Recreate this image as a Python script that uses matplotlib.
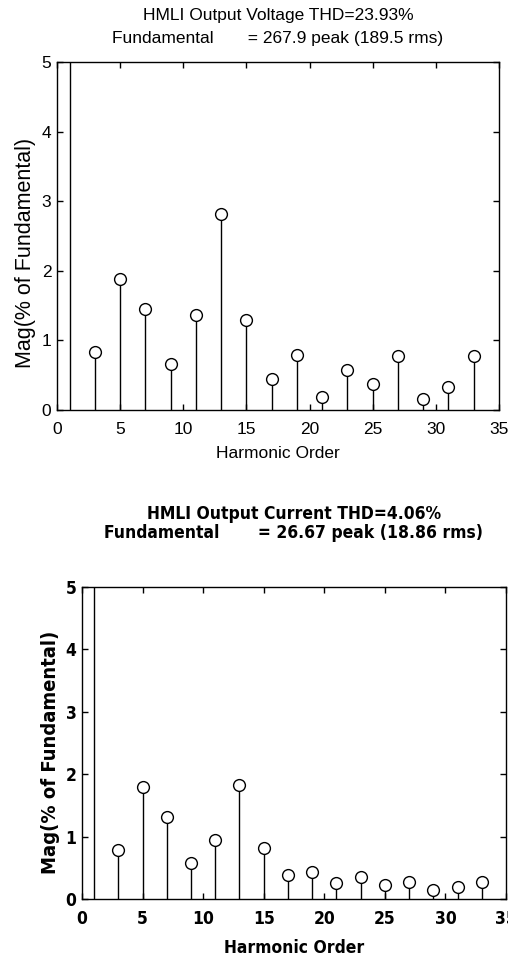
import matplotlib
matplotlib.use("Agg")
import matplotlib.pyplot as plt

harmonics = [1, 3, 5, 7, 9, 11, 13, 15, 17, 19, 21, 23, 25, 27, 29, 31, 33]
voltage_mag = [100, 0.83, 1.88, 1.45, 0.66, 1.37, 2.82, 1.29, 0.44, 0.79, 0.18, 0.57, 0.37, 0.77, 0.16, 0.33, 0.77]
current_mag = [100, 0.78, 1.80, 1.32, 0.57, 0.94, 1.82, 0.81, 0.39, 0.44, 0.25, 0.36, 0.22, 0.28, 0.14, 0.20, 0.28]
xticks = [0, 5, 10, 15, 20, 25, 30, 35]
yticks = [0, 1, 2, 3, 4, 5]

W, H = 508, 957
fig = plt.figure(figsize=(W / 100, H / 100), dpi=100)


def px_axes(l, t, r, b):
    return fig.add_axes([l / W, 1 - b / H, (r - l) / W, (b - t) / H])


def stem_plot(ax, y, fkw, size, title, ylabel, tpad, tls, xpad, ylsize, ylpos, xlpad):
    ax.vlines(harmonics, 0, y, color="black", lw=1.0, clip_on=True)
    ax.plot(harmonics, y, "o", mfc="white", mec="black", ms=8.5, mew=1.0, clip_on=True)
    ax.set_xlim(0, 35)
    ax.set_ylim(0, 5)
    ax.set_xticks(xticks)
    ax.set_yticks(yticks)
    ax.tick_params(direction="in", top=True, right=True, length=4, width=1,
                   labelsize=size)
    ax.tick_params(axis="x", pad=xpad)
    ax.tick_params(axis="y", pad=4)
    for lab in ax.get_xticklabels() + ax.get_yticklabels():
        lab.set(**fkw)
    for s in ax.spines.values():
        s.set_linewidth(1.0)
    ax.set_xlabel("Harmonic Order", fontsize=size, labelpad=xlpad, **fkw)
    ax.set_ylabel(ylabel, fontsize=ylsize, labelpad=4, **fkw)
    ax.yaxis.label.set_y(ylpos)
    ax.set_title(title, fontsize=size, pad=tpad, linespacing=tls, **fkw)


ax1 = px_axes(57, 62, 499, 410)
stem_plot(ax1, voltage_mag, dict(family="Liberation Sans", fontweight="normal"), 12.5,
          "HMLI Output Voltage THD=23.93%\nFundamental       = 267.9 peak (189.5 rms)",
          "Mag(% of Fundamental)", 14, 1.6, 9, 15.5, 0.451, 6)

ax2 = px_axes(82, 587, 506, 899)
stem_plot(ax2, current_mag,
          dict(family="DejaVu Sans", fontweight="bold", fontstretch="condensed"), 12.5,
          "HMLI Output Current THD=4.06%\nFundamental       = 26.67 peak (18.86 rms)",
          "Mag(% of Fundamental)", 35, 1.1, 8, 14.5, 0.471, 8)

fig.savefig("out.png", dpi=100)
